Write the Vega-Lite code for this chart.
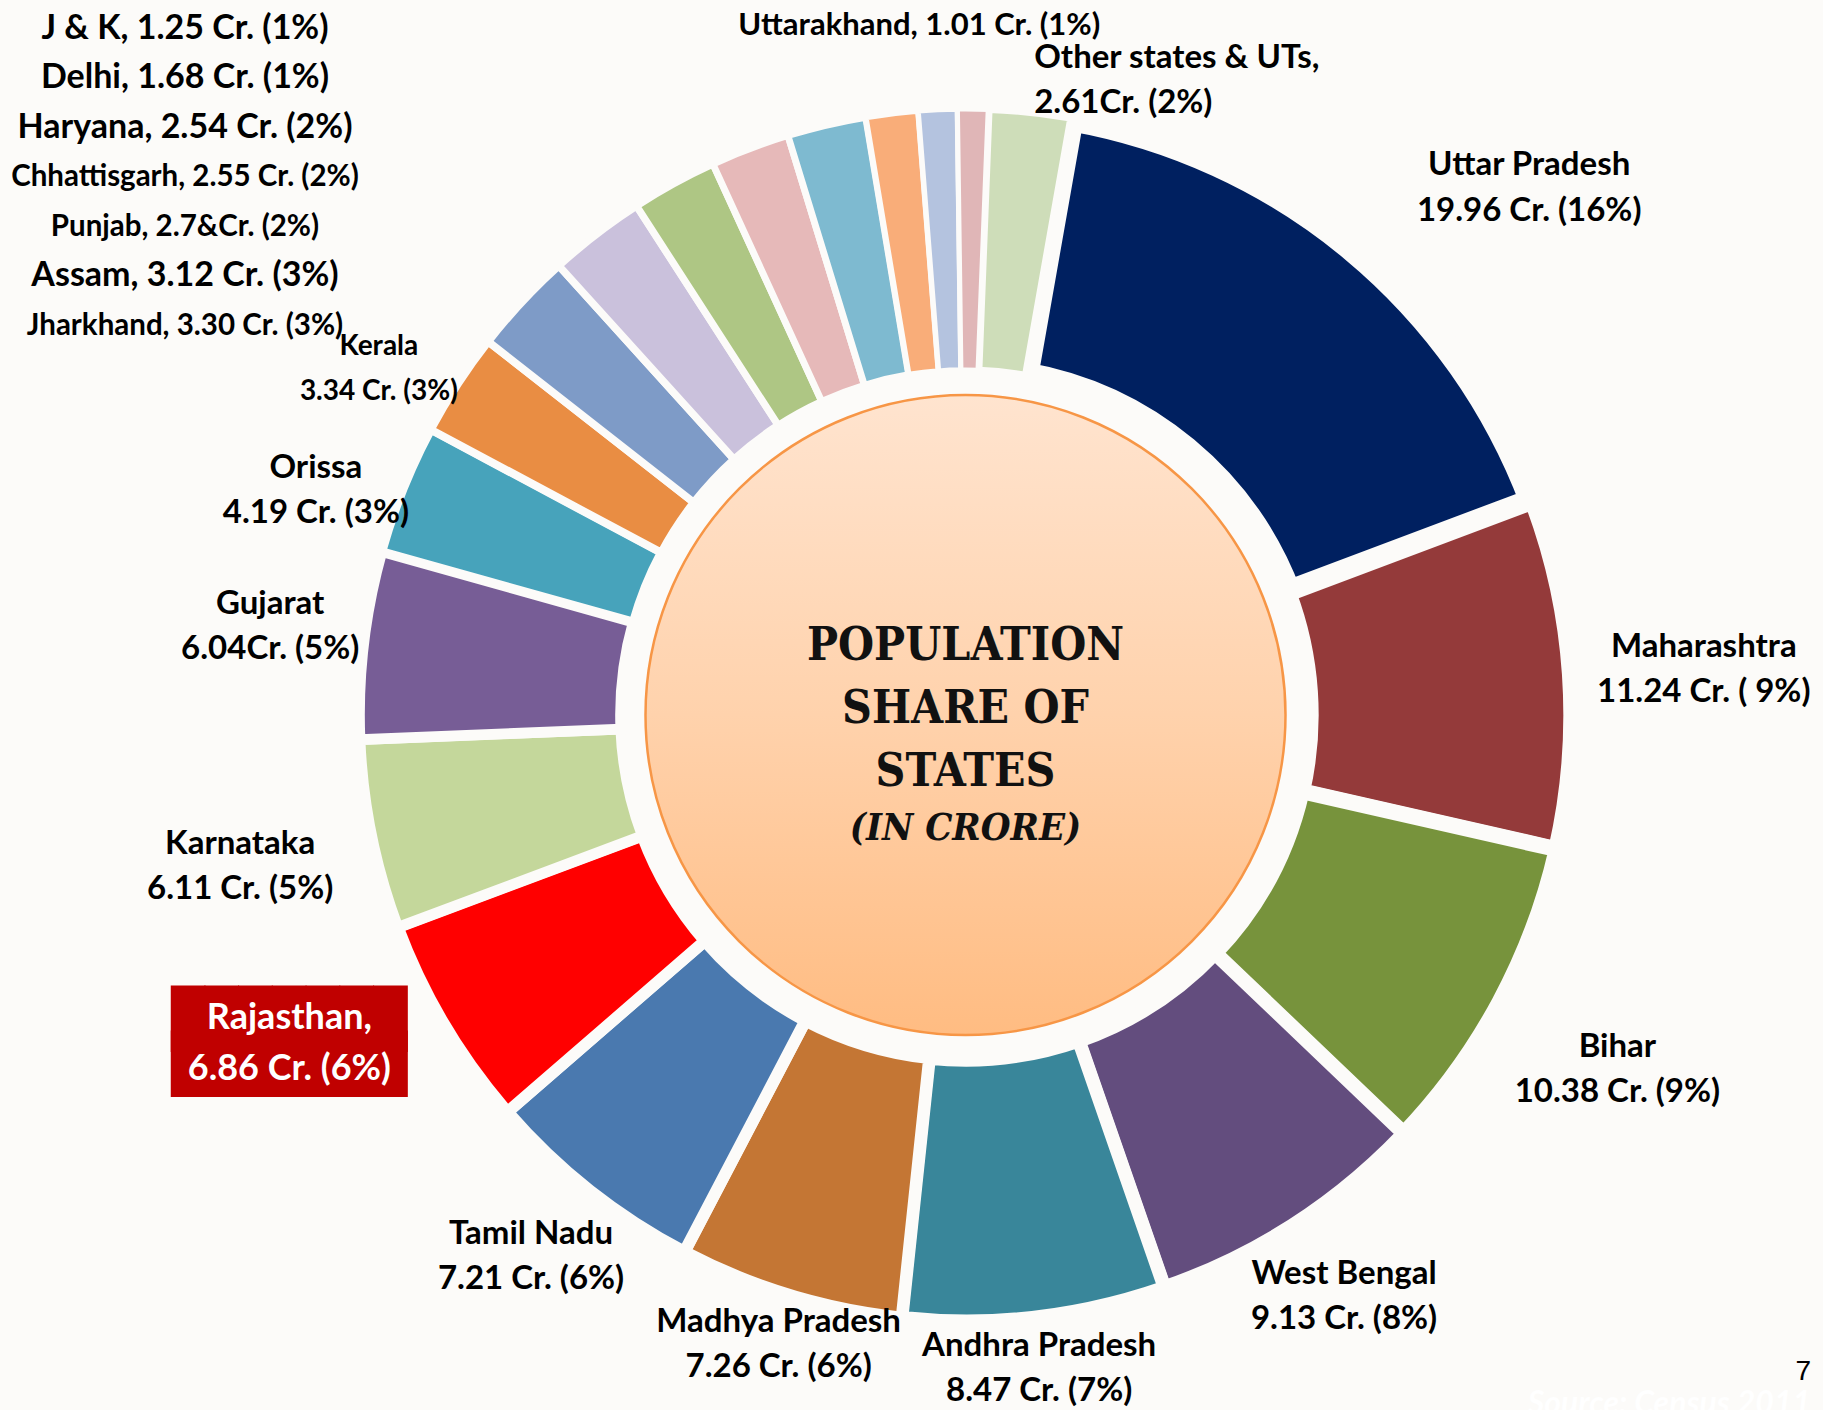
{
  "$schema": "https://vega.github.io/schema/vega-lite/v6.json",
  "autosize": "none",
  "width": 1715,
  "height": 1390,
  "padding": {"left": 108, "top": 20, "right": 0, "bottom": 0},
  "background": "#FCFBF9",
  "config": {"view": {"stroke": null}, "text": {"font": "Lato"}},
  "title": {
    "text": "7",
    "subtitle": "Source: Census 2011",
    "orient": "bottom",
    "anchor": "end",
    "frame": "group",
    "offset": -182,
    "dx": -12,
    "fontSize": 28,
    "font": "Liberation Sans",
    "fontWeight": "normal",
    "color": "#000000",
    "subtitleColor": "#FFFFFF",
    "subtitleFont": "Lato",
    "subtitleFontSize": 32,
    "subtitleFontStyle": "italic",
    "subtitleFontWeight": "bold"
  },
  "data": {
    "values": [
      {"idx": 1, "name": "Uttar Pradesh", "value": 19.96, "label": "Uttar Pradesh\n19.96 Cr. (16%)"},
      {"idx": 2, "name": "Maharashtra", "value": 11.24, "label": "Maharashtra\n11.24 Cr. ( 9%)"},
      {"idx": 3, "name": "Bihar", "value": 10.38, "label": "Bihar\n10.38 Cr. (9%)"},
      {"idx": 4, "name": "West Bengal", "value": 9.13, "label": "West Bengal\n9.13 Cr. (8%)"},
      {"idx": 5, "name": "Andhra Pradesh", "value": 8.47, "label": "Andhra Pradesh\n8.47 Cr. (7%)"},
      {"idx": 6, "name": "Madhya Pradesh", "value": 7.26, "label": "Madhya Pradesh\n7.26 Cr. (6%)"},
      {"idx": 7, "name": "Tamil Nadu", "value": 7.21, "label": "Tamil Nadu\n7.21 Cr.  (6%)"},
      {"idx": 8, "name": "Rajasthan", "value": 6.86, "label": "Rajasthan,\n6.86 Cr. (6%)"},
      {"idx": 9, "name": "Karnataka", "value": 6.11, "label": "Karnataka\n6.11 Cr. (5%)"},
      {"idx": 10, "name": "Gujarat", "value": 6.04, "label": "Gujarat\n6.04Cr. (5%)"},
      {"idx": 11, "name": "Orissa", "value": 4.19, "label": "Orissa\n4.19 Cr. (3%)"},
      {"idx": 12, "name": "Kerala", "value": 3.34, "label": "Kerala\n3.34 Cr. (3%)"},
      {"idx": 13, "name": "Jharkhand", "value": 3.30, "label": "Jharkhand, 3.30 Cr. (3%)"},
      {"idx": 14, "name": "Assam", "value": 3.12, "label": "Assam, 3.12 Cr. (3%)"},
      {"idx": 15, "name": "Punjab", "value": 2.77, "label": "Punjab, 2.7&Cr. (2%)"},
      {"idx": 16, "name": "Chhattisgarh", "value": 2.55, "label": "Chhattisgarh, 2.55 Cr. (2%)"},
      {"idx": 17, "name": "Haryana", "value": 2.54, "label": "Haryana, 2.54 Cr. (2%)"},
      {"idx": 18, "name": "Delhi", "value": 1.68, "label": "Delhi, 1.68 Cr. (1%)"},
      {"idx": 19, "name": "J & K", "value": 1.25, "label": "J & K, 1.25 Cr. (1%)"},
      {"idx": 20, "name": "Uttarakhand", "value": 1.01, "label": "Uttarakhand, 1.01 Cr. (1%)"},
      {"idx": 21, "name": "Other states & UTs", "value": 2.61, "label": "Other states & UTs,\n2.61Cr.  (2%)"}
    ]
  },
  "layer": [
    {
      "data": {"values": [{"part": "centre"}]},
      "mark": {
        "type": "arc",
        "radius": 320,
        "theta": 0,
        "theta2": 6.2832,
        "fill": {
          "gradient": "linear",
          "x1": 0, "y1": 0, "x2": 0, "y2": 1,
          "stops": [
            {"offset": 0, "color": "#FFE4CF"},
            {"offset": 0.5, "color": "#FFD2AC"},
            {"offset": 1, "color": "#FFBC82"}
          ]
        },
        "stroke": "#F79646",
        "strokeWidth": 2.5
      },
      "encoding": {}
    },
    {
      "mark": {"type": "arc", "outerRadius": 606, "innerRadius": 345, "stroke": "#FCFBF9"},
      "encoding": {
        "theta": {"field": "value", "type": "quantitative", "stack": true, "scale": {"range": [0.1745, 6.4577]}},
        "order": {"field": "idx", "type": "quantitative"},
        "color": {
          "field": "name",
          "type": "nominal",
          "scale": {
            "domain": ["Uttar Pradesh", "Maharashtra", "Bihar", "West Bengal", "Andhra Pradesh", "Madhya Pradesh", "Tamil Nadu", "Rajasthan", "Karnataka", "Gujarat", "Orissa", "Kerala", "Jharkhand", "Assam", "Punjab", "Chhattisgarh", "Haryana", "Delhi", "J & K", "Uttarakhand", "Other states & UTs"],
            "range": ["#002060", "#943A3A", "#77933C", "#634D7E", "#39869A", "#C47634", "#4A79AF", "#FF0000", "#C4D79B", "#775D96", "#47A3BB", "#E98D43", "#7E9BC7", "#CAC1DC", "#AEC684", "#E6B9B9", "#7EBAD0", "#F9AD79", "#B4C3DF", "#E0B6B7", "#CEDDB9"]
          },
          "legend": null
        },
        "strokeWidth": {"field": "value", "type": "quantitative", "scale": {"domain": [0, 20], "range": [4, 26]}, "legend": null}
      }
    },
    {
      "mark": {"type": "text", "radius": 770, "dx": 72, "dy": 43, "align": "center", "baseline": "middle", "lineBreak": "\n", "fontSize": 33, "fontWeight": "bold", "lineHeight": 46, "color": "#000000"},
      "encoding": {
        "theta": {"field": "value", "type": "quantitative", "stack": true, "scale": {"range": [0.1745, 6.4577]}},
        "order": {"field": "idx", "type": "quantitative"},
        "text": {"condition": {"test": "datum.idx == 1", "field": "label"}, "value": ""}
      }
    },
    {
      "mark": {"type": "text", "radius": 740, "dy": -18, "align": "center", "baseline": "middle", "lineBreak": "\n", "fontSize": 33, "fontWeight": "bold", "lineHeight": 45, "color": "#000000"},
      "encoding": {
        "theta": {"field": "value", "type": "quantitative", "stack": true, "scale": {"range": [0.1745, 6.4577]}},
        "order": {"field": "idx", "type": "quantitative"},
        "text": {"condition": {"test": "indexof([2,3,9], datum.idx) >= 0", "field": "label"}, "value": ""}
      }
    },
    {
      "mark": {"type": "text", "radius": 700, "dy": -30, "align": "center", "baseline": "middle", "lineBreak": "\n", "fontSize": 33, "fontWeight": "bold", "lineHeight": 45, "color": "#000000"},
      "encoding": {
        "theta": {"field": "value", "type": "quantitative", "stack": true, "scale": {"range": [0.1745, 6.4577]}},
        "order": {"field": "idx", "type": "quantitative"},
        "text": {"condition": {"test": "indexof([4,7,10], datum.idx) >= 0", "field": "label"}, "value": ""}
      }
    },
    {
      "mark": {"type": "text", "radius": 700, "dy": 14, "align": "center", "baseline": "middle", "lineBreak": "\n", "fontWeight": "bold", "lineHeight": 45, "color": "#000000"},
      "encoding": {
        "theta": {"field": "value", "type": "quantitative", "stack": true, "scale": {"range": [0.1745, 6.4577]}},
        "order": {"field": "idx", "type": "quantitative"},
        "size": {"condition": {"test": "datum.idx == 12", "value": 28}, "value": 33},
        "text": {"condition": {"test": "indexof([11,12], datum.idx) >= 0", "field": "label"}, "value": ""}
      }
    },
    {
      "mark": {"type": "text", "radius": 645, "dy": -10, "align": "center", "baseline": "middle", "lineBreak": "\n", "fontSize": 33, "fontWeight": "bold", "lineHeight": 45, "color": "#000000"},
      "encoding": {
        "theta": {"field": "value", "type": "quantitative", "stack": true, "scale": {"range": [0.1745, 6.4577]}},
        "order": {"field": "idx", "type": "quantitative"},
        "text": {"condition": {"test": "indexof([5,6], datum.idx) >= 0", "field": "label"}, "value": ""}
      }
    },
    {
      "mark": {"type": "text", "radius": 755, "dx": -27, "dy": -80, "align": "center", "baseline": "middle", "lineBreak": "\n", "font": "DejaVu Sans Mono", "fontSize": 56, "lineHeight": 45, "color": "#C00000"},
      "encoding": {
        "theta": {"field": "value", "type": "quantitative", "stack": true, "scale": {"range": [0.1745, 6.4577]}},
        "order": {"field": "idx", "type": "quantitative"},
        "text": {"condition": {"test": "datum.idx == 8", "value": "███████\n███████"}, "value": ""}
      }
    },
    {
      "mark": {"type": "text", "radius": 755, "dx": -27, "dy": -83, "align": "center", "baseline": "middle", "lineBreak": "\n", "fontSize": 36, "fontWeight": "bold", "lineHeight": 51, "color": "#FFFFFF"},
      "encoding": {
        "theta": {"field": "value", "type": "quantitative", "stack": true, "scale": {"range": [0.1745, 6.4577]}},
        "order": {"field": "idx", "type": "quantitative"},
        "text": {"condition": {"test": "datum.idx == 8", "field": "label"}, "value": ""}
      }
    },
    {
      "mark": {"type": "text", "radius": 689, "dx": -55, "align": "center", "baseline": "middle", "fontSize": 31, "fontWeight": "bold", "color": "#000000"},
      "encoding": {
        "theta": {"field": "value", "type": "quantitative", "stack": true, "scale": {"range": [0.1745, 6.4577]}},
        "order": {"field": "idx", "type": "quantitative"},
        "text": {"condition": {"test": "datum.idx == 20", "field": "label"}, "value": ""}
      }
    },
    {
      "mark": {"type": "text", "radius": 645, "dy": -16, "align": "left", "baseline": "middle", "lineBreak": "\n", "fontSize": 33, "fontWeight": "bold", "lineHeight": 45, "color": "#000000"},
      "encoding": {
        "theta": {"field": "value", "type": "quantitative", "stack": true, "scale": {"range": [0.1745, 6.4577]}},
        "order": {"field": "idx", "type": "quantitative"},
        "text": {"condition": {"test": "datum.idx == 21", "field": "label"}, "value": ""}
      }
    },
    {
      "transform": [{"filter": "datum.idx >= 13 && datum.idx <= 19"}],
      "mark": {"type": "text", "align": "center", "baseline": "middle", "fontWeight": "bold", "color": "#000000"},
      "encoding": {
        "x": {"value": 77},
        "y": {"field": "idx", "type": "quantitative", "scale": {"domain": [-8.9, 19.18], "nice": false, "zero": false}, "axis": null},
        "size": {"condition": {"test": "indexof([13,15,16], datum.idx) >= 0", "value": 29.5}, "value": 34},
        "text": {"field": "label"}
      }
    },
    {
      "data": {"values": [{"heading": "POPULATION\nSHARE OF\nSTATES", "unit": "(IN CRORE)"}]},
      "mark": {"type": "text", "align": "center", "baseline": "middle", "lineBreak": "\n", "font": "DejaVu Serif Condensed", "fontSize": 46, "fontWeight": "bold", "lineHeight": 63, "dy": -69, "color": "#111111"},
      "encoding": {"text": {"field": "heading"}}
    },
    {
      "data": {"values": [{"heading": "POPULATION\nSHARE OF\nSTATES", "unit": "(IN CRORE)"}]},
      "mark": {"type": "text", "align": "center", "baseline": "middle", "font": "DejaVu Serif Condensed", "fontSize": 38, "fontWeight": "bold", "fontStyle": "italic", "dy": 114, "color": "#111111"},
      "encoding": {"text": {"field": "unit"}}
    }
  ]
}
